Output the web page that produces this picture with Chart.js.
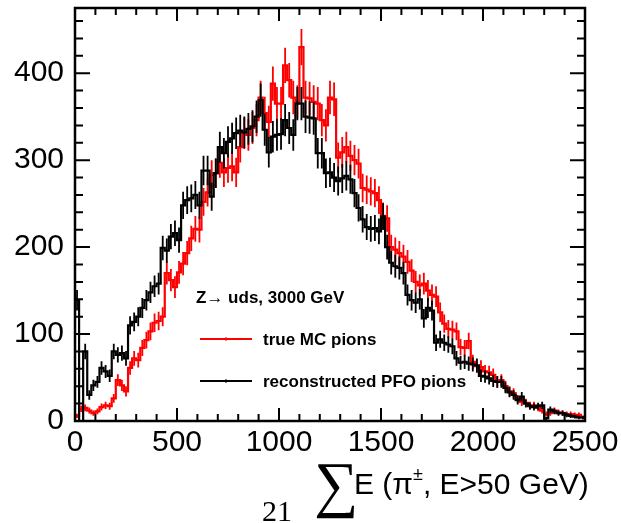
<!DOCTYPE html>
<html>
<head>
<meta charset="utf-8">
<script src="https://cdn.jsdelivr.net/npm/chart.js@4"></script>
<style>
  html, body { margin: 0; padding: 0; background: #fff; }
  #wrap { width: 621px; height: 523px; position: relative; }
</style>
</head>
<body>
<div id="wrap"><canvas id="histo"></canvas></div>
<script>
// 125 bins of 20 GeV, 0 - 2500
const binLow = 0;
const binWidth = 20;

const trueMcPions = [6,14,15,12,9,11,16,18,17,26, 47,41,34,61,72,70,84,93,103,113,
  115,120,170,162,154,171,181,193,210,221, 220,252,263,283,285,297,286,291,293,286,
  315,331,329,337,346,372,354,344,388,365, 365,409,392,372,367,430,372,371,367,365,
  346,340,372,370,303,309,315,305,300,296, 268,266,264,262,254,236,233,200,197,193,
  189,183,173,160,156,158,150,145,143,125, 112,106,105,103,85,84,92,68,63,62,
  57,56,53,45,47,40,34,32,25,22, 21,18,18,15,12,8,9,12,10,9,
  8,8,7,7,4];

const recoPfoPions = [139,0,80,30,41,45,61,57,52,80, 76,78,72,110,114,120,130,139,148,155,
  158,199,196,212,216,208,248,254,256,260, 248,288,288,258,285,315,308,321,325,331,
  334,332,336,339,350,369,335,309,327,329, 330,346,337,329,365,365,350,349,348,308,
  308,285,286,280,276,279,282,278,262,245, 232,223,221,222,218,235,200,182,178,176,
  170,145,139,136,140,118,130,127,90,94, 90,88,86,72,67,68,66,65,64,52,
  51,49,46,45,45,38,33,30,24,28, 20,17,16,17,18,3,13,11,9,9,
  7,6,5,4,4];

const xTickValues = [0, 500, 1000, 1500, 2000, 2500];
const yTickValues = [0, 100, 200, 300, 400];
const xMinorStep = 100;
const yMinorStep = 20;
const yMax = 475;

const legendTitle = 'Z\u2192 uds, 3000 GeV';
const legendLabels = ['true MC pions', 'reconstructed PFO pions'];

// histogram outline: one point per left bin edge, plus closing edge
function stepPoints(values) {
  const pts = values.map((v, i) => ({ x: binLow + i * binWidth, y: v }));
  pts.push({ x: binLow + values.length * binWidth, y: values[values.length - 1] });
  return pts;
}

const errorBars = {
  id: 'errorBars',
  afterDatasetDraw(chart, args) {
    const ds = chart.data.datasets[args.index];
    const { ctx, chartArea: a } = chart;
    const xs = chart.scales.x, ys = chart.scales.y;
    ctx.save();
    ctx.beginPath();
    ctx.rect(a.left, a.top, a.width, a.height);
    ctx.clip();
    ctx.strokeStyle = ds.borderColor;
    ctx.lineWidth = 1.8;
    ctx.beginPath();
    ds.counts.forEach((v, i) => {
      const err = Math.sqrt(v);
      const px = xs.getPixelForValue(binLow + (i + 0.5) * binWidth);
      ctx.moveTo(px, ys.getPixelForValue(v - err));
      ctx.lineTo(px, ys.getPixelForValue(v + err));
    });
    ctx.stroke();
    ctx.restore();
  }
};

const rootFrame = {
  id: 'rootFrame',
  afterDraw(chart) {
    const { ctx, chartArea: a } = chart;
    const xs = chart.scales.x, ys = chart.scales.y;
    ctx.save();
    ctx.strokeStyle = '#000';
    ctx.lineWidth = 2;
    ctx.beginPath();
    for (let v = xs.min; v <= xs.max + 0.1; v += xMinorStep) {
      const len = xTickValues.includes(v) ? 13 : 7;
      const px = xs.getPixelForValue(v);
      ctx.moveTo(px, a.bottom); ctx.lineTo(px, a.bottom - len);
      ctx.moveTo(px, a.top); ctx.lineTo(px, a.top + len);
    }
    for (let v = 0; v <= ys.max; v += yMinorStep) {
      const len = yTickValues.includes(v) ? 15 : 8;
      const py = ys.getPixelForValue(v);
      ctx.moveTo(a.left, py); ctx.lineTo(a.left + len, py);
      ctx.moveTo(a.right, py); ctx.lineTo(a.right - len, py);
    }
    ctx.stroke();
    ctx.lineWidth = 2.5;
    ctx.strokeRect(a.left, a.top, a.width, a.height);

    // legend
    ctx.fillStyle = '#000';
    ctx.textBaseline = 'alphabetic';
    ctx.font = 'bold 17px "Liberation Sans", Arial, sans-serif';
    ctx.fillText(legendTitle, 196, 303);
    const colors = ['#ff0000', '#000000'];
    const rows = [339, 381];
    rows.forEach((ry, k) => {
      ctx.strokeStyle = colors[k];
      ctx.lineWidth = 2;
      ctx.beginPath();
      ctx.moveTo(200, ry); ctx.lineTo(252, ry);
      ctx.moveTo(226, ry - 1.5); ctx.lineTo(226, ry + 1.5);
      ctx.stroke();
      ctx.fillText(legendLabels[k], 263, ry + 6);
    });

    // x axis title
    ctx.font = '30px "Liberation Serif", "Times New Roman", serif';
    ctx.fillText('21', 262, 521);
    ctx.font = '62px "Liberation Serif", "Times New Roman", serif';
    ctx.fillText('\u2211', 314, 505);
    ctx.font = '30px "Liberation Sans", Arial, sans-serif';
    let tx = 354;
    const part1 = 'E (\u03c0';
    ctx.fillText(part1, tx, 494);
    tx += ctx.measureText(part1).width;
    ctx.font = '18px "Liberation Sans", Arial, sans-serif';
    ctx.fillText('\u00b1', tx, 480);
    tx += ctx.measureText('\u00b1').width;
    ctx.font = '30px "Liberation Sans", Arial, sans-serif';
    ctx.fillText(', E>50 GeV)', tx, 494);
    ctx.restore();
  }
};

new Chart(document.getElementById('histo'), {
  type: 'line',
  data: {
    datasets: [
      {
        label: legendLabels[0],
        data: stepPoints(trueMcPions),
        counts: trueMcPions,
        borderColor: '#ff0000',
        borderWidth: 2.2,
        stepped: 'before',
        pointRadius: 0,
        fill: false,
        order: 1
      },
      {
        label: legendLabels[1],
        data: stepPoints(recoPfoPions),
        counts: recoPfoPions,
        borderColor: '#000000',
        borderWidth: 2.2,
        stepped: 'before',
        pointRadius: 0,
        fill: false,
        order: 0
      }
    ]
  },
  options: {
    responsive: true,
    maintainAspectRatio: false,
    devicePixelRatio: 1,
    animation: false,
    layout: { padding: { top: 8, right: 36, left: 0, bottom: 0 } },
    plugins: {
      legend: { display: false },
      tooltip: { enabled: false }
    },
    scales: {
      x: {
        type: 'linear',
        min: 0,
        max: 2500,
        grid: { display: false, drawTicks: false },
        border: { display: false },
        afterBuildTicks: (scale) => { scale.ticks = xTickValues.map(v => ({ value: v })); },
        afterFit: (scale) => {
          scale.height = 102;
          scale.paddingLeft = 0;
          scale.paddingRight = 0;
        },
        ticks: {
          color: '#000',
          padding: 4,
          maxRotation: 0,
          autoSkip: false,
          callback: (v) => String(v),
          font: { family: '"Liberation Sans", Arial, sans-serif', size: 30 }
        }
      },
      y: {
        type: 'linear',
        min: 0,
        max: yMax,
        grid: { display: false, drawTicks: false },
        border: { display: false },
        afterBuildTicks: (scale) => { scale.ticks = yTickValues.map(v => ({ value: v })); },
        afterFit: (scale) => {
          scale.width = 75;
          scale.paddingTop = 0;
          scale.paddingBottom = 0;
        },
        ticks: {
          color: '#000',
          padding: 11,
          autoSkip: false,
          callback: (v) => String(v),
          font: { family: '"Liberation Sans", Arial, sans-serif', size: 30 }
        }
      }
    }
  },
  plugins: [errorBars, rootFrame]
});
</script>
</body>
</html>
